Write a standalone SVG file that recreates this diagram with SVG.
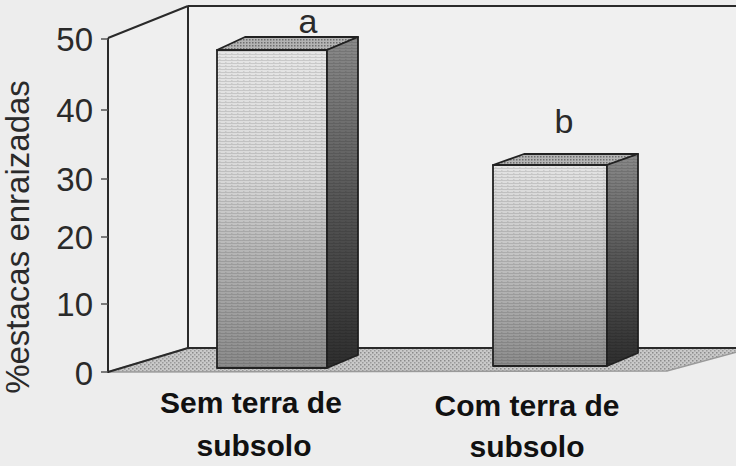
<svg xmlns="http://www.w3.org/2000/svg" width="736" height="466" viewBox="0 0 736 466">
<style>
.edge{stroke:#2a2a2a;stroke-width:2;fill:none}
.tick{stroke:#555;stroke-width:1.5}
.num{font-family:"Liberation Sans",Arial,sans-serif;font-size:33px;fill:#2a2a2a;text-anchor:end}
.title{font-family:"Liberation Sans",Arial,sans-serif;font-size:33px;fill:#2a2a2a;text-anchor:middle}
.cat{font-family:"Liberation Sans",Arial,sans-serif;font-size:30px;font-weight:bold;fill:#111;text-anchor:middle}
.let{font-family:"Liberation Sans",Arial,sans-serif;font-size:34px;fill:#2a2a2a;text-anchor:middle}
.face{stroke:#222;stroke-width:1.8;stroke-linejoin:round}
</style>
<defs>
<pattern id="stip" width="4" height="4" patternUnits="userSpaceOnUse">
<rect width="4" height="4" fill="#c9c9c9"/>
<rect x="0" y="0" width="1.5" height="1.5" fill="#8a8a8a"/>
<rect x="2" y="2" width="1.5" height="1.5" fill="#9a9a9a"/>
</pattern>
<pattern id="lines" width="6" height="3" patternUnits="userSpaceOnUse">
<rect width="6" height="1" fill="#000" fill-opacity="0.12"/>
<rect x="3" y="2" width="1.5" height="1" fill="#000" fill-opacity="0.1"/>
</pattern>
<pattern id="topstip" width="3" height="3" patternUnits="userSpaceOnUse">
<rect width="3" height="3" fill="#b4b4b4"/>
<rect width="1.5" height="1.5" fill="#6e6e6e"/>
</pattern>
<linearGradient id="frontA" x1="0" y1="0" x2="0" y2="1">
<stop offset="0" stop-color="#e6e6e6"/>
<stop offset="0.4" stop-color="#d8d8d8"/>
<stop offset="0.65" stop-color="#b4b4b4"/>
<stop offset="1" stop-color="#8a8a8a"/>
</linearGradient>
<linearGradient id="frontB" x1="0" y1="0" x2="0" y2="1">
<stop offset="0" stop-color="#e4e4e4"/>
<stop offset="0.45" stop-color="#c4c4c4"/>
<stop offset="1" stop-color="#8c8c8c"/>
</linearGradient>
<linearGradient id="side" x1="0" y1="0" x2="0" y2="1">
<stop offset="0" stop-color="#8a8a8a"/>
<stop offset="0.5" stop-color="#555"/>
<stop offset="1" stop-color="#2e2e2e"/>
</linearGradient>
</defs>
<rect width="736" height="466" fill="#ededed"/>

<g id="chart-frame">
<polygon points="108,38 188,6 188,348 108,372" fill="#efefef"/>
<rect x="188" y="6" width="548" height="342" fill="#f0f0f0"/>
<polygon points="108,372 188,348 752,348 667,371" fill="url(#stip)" stroke="#9a9a9a" stroke-width="1.5"/>
<line class="edge" x1="108" y1="38" x2="108" y2="373"/>
<line class="edge" x1="108" y1="38" x2="188" y2="6"/>
<line class="edge" x1="188" y1="6" x2="188" y2="348"/>
<line class="edge" x1="188" y1="6" x2="736" y2="6"/>
<line class="edge" x1="188" y1="348" x2="736" y2="348"/>
<line class="edge" x1="108" y1="372" x2="188" y2="348"/>
</g>

<g id="y-axis">
<line class="tick" x1="101" y1="39" x2="108" y2="39"/>
<line class="tick" x1="101" y1="110" x2="108" y2="110"/>
<line class="tick" x1="101" y1="179" x2="108" y2="179"/>
<line class="tick" x1="101" y1="237" x2="108" y2="237"/>
<line class="tick" x1="101" y1="304" x2="108" y2="304"/>
<line class="tick" x1="101" y1="372" x2="108" y2="372"/>
<text class="num" x="93" y="51">50</text>
<text class="num" x="93" y="122">40</text>
<text class="num" x="93" y="191">30</text>
<text class="num" x="93" y="249">20</text>
<text class="num" x="93" y="316">10</text>
<text class="num" x="93" y="385">0</text>
<text class="title" transform="translate(29,237) rotate(-90)">%estacas enraizadas</text>
</g>

<g id="bar-a">
<polygon class="face" points="217,50 327,50 327,368 217,368" fill="url(#frontA)"/>
<polygon points="217,50 327,50 327,368 217,368" fill="url(#lines)"/>
<polygon class="face" points="217,50 245,37 358,37 327,50" fill="url(#topstip)"/>
<polygon class="face" points="327,50 358,37 358,355 327,368" fill="url(#side)"/>
<polygon points="327,50 358,37 358,355 327,368" fill="url(#lines)"/>
<text class="let" x="308" y="33">a</text>
</g>

<g id="bar-b">
<polygon class="face" points="493,165 607,165 607,366 493,366" fill="url(#frontB)"/>
<polygon points="493,165 607,165 607,366 493,366" fill="url(#lines)"/>
<polygon class="face" points="493,165 524,154 638,154 607,165" fill="url(#topstip)"/>
<polygon class="face" points="607,165 638,154 638,353 607,366" fill="url(#side)"/>
<polygon points="607,165 638,154 638,353 607,366" fill="url(#lines)"/>
<text class="let" x="564" y="133">b</text>
</g>

<g id="x-labels">
<text class="cat" x="251" y="413">Sem terra de</text>
<text class="cat" x="254" y="456">subsolo</text>
<text class="cat" x="527" y="416">Com terra de</text>
<text class="cat" x="527" y="457">subsolo</text>
</g>
</svg>
